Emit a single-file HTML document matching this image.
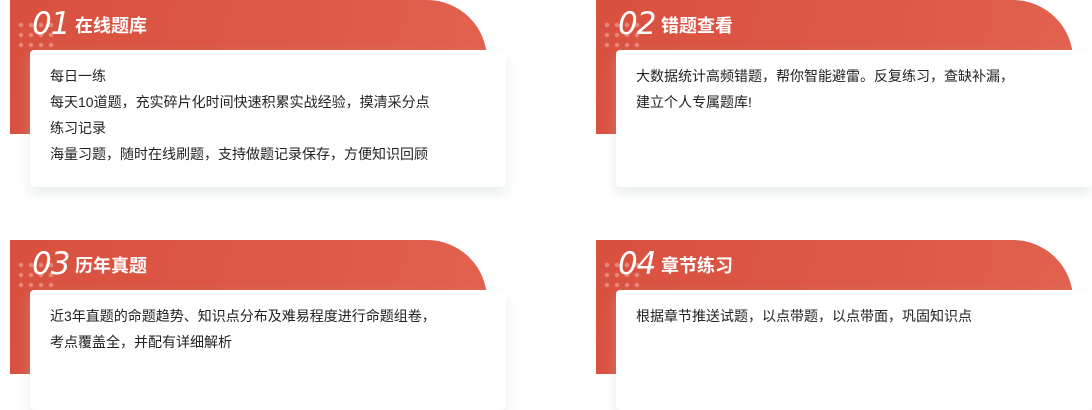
<!DOCTYPE html>
<html><head><meta charset="utf-8"><style>
body{margin:0;width:1092px;height:406px;background:#fff;position:relative;overflow:hidden;font-family:"Liberation Sans","Noto Sans CJK SC",sans-serif}
.red{position:absolute;width:477px;height:134px;border-radius:0 60px 0 0;background:linear-gradient(100deg,#d9503f 0%,#de5a48 60%,#e2614f 100%)}
.dots{position:absolute;left:6px;top:20px;width:40px;height:30px;background-image:radial-gradient(circle,rgba(255,255,255,.3) 2px,transparent 2.5px);background-size:10px 10px}
.num{position:absolute;left:22px;top:6px;font-size:31px;font-style:italic;color:#fff;font-weight:300;font-family:"DejaVu Sans","Liberation Sans",sans-serif;letter-spacing:-1px}
.tt{position:absolute;left:65px;top:12px;font-size:18px;font-weight:bold;color:#fff}
.card{position:absolute;width:476px;height:137px;background:#fff;border-radius:4px;box-shadow:0 6px 14px rgba(180,200,195,.35)}
.card p{margin:0;position:absolute;left:20px;font-size:14px;color:#222;line-height:26px}
</style></head><body>
<div class="red" style="left:10px;top:0"><div class="dots"></div><div class="num">01</div><div class="tt">在线题库</div></div>
<div class="card" style="left:30px;top:50px"><p style="top:13px">每日一练<br>每天10道题，充实碎片化时间快速积累实战经验，摸清采分点<br>练习记录<br>海量习题，随时在线刷题，支持做题记录保存，方便知识回顾</p></div>
<div class="red" style="left:596px;top:0"><div class="dots"></div><div class="num">02</div><div class="tt">错题查看</div></div>
<div class="card" style="left:616px;top:50px"><p style="top:13px">大数据统计高频错题，帮你智能避雷。反复练习，查缺补漏，<br>建立个人专属题库!</p></div>
<div class="red" style="left:10px;top:240px"><div class="dots"></div><div class="num">03</div><div class="tt">历年真题</div></div>
<div class="card" style="left:30px;top:290px;height:120px"><p style="top:13px">近3年直题的命题趋势、知识点分布及难易程度进行命题组卷，<br>考点覆盖全，并配有详细解析</p></div>
<div class="red" style="left:596px;top:240px"><div class="dots"></div><div class="num">04</div><div class="tt">章节练习</div></div>
<div class="card" style="left:616px;top:290px;height:120px"><p style="top:13px">根据章节推送试题，以点带题，以点带面，巩固知识点</p></div>
</body></html>
